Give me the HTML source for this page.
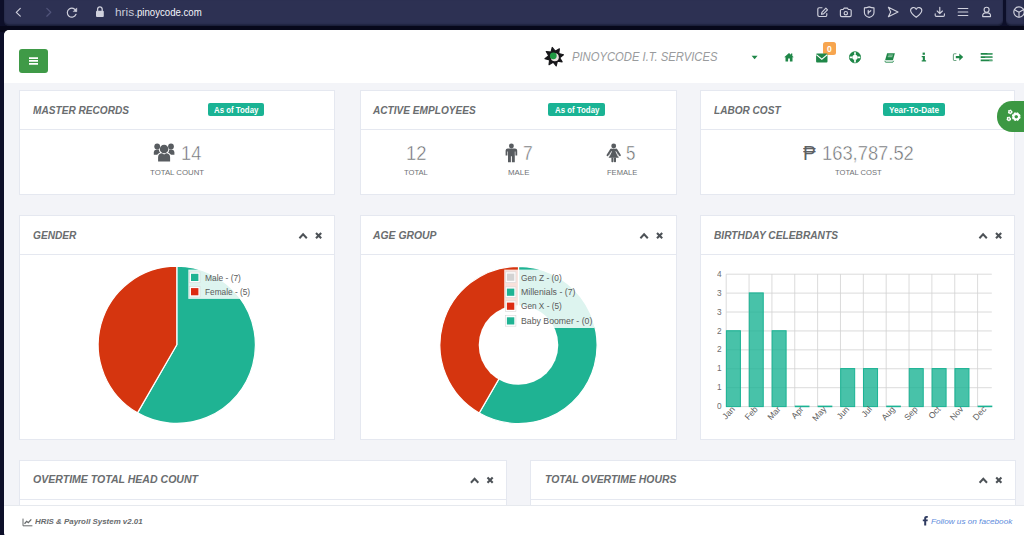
<!DOCTYPE html>
<html>
<head>
<meta charset="utf-8">
<title>HRIS &amp; Payroll System</title>
<style>
*{box-sizing:border-box;margin:0;padding:0}
html,body{width:1024px;height:535px;overflow:hidden}
body{background:#0d0f29;font-family:"Liberation Sans",sans-serif;position:relative;color:#676a6c}
.a{position:absolute}
.t{position:absolute;white-space:pre;transform-origin:0 0;display:block}
svg{position:absolute;overflow:visible}
#chrome{left:3.8px;top:0;width:999.6px;height:26.4px;background:#2d3153;border-radius:0 0 5px 5px;box-shadow:inset 0 -1.5px 1.5px rgba(10,12,30,.55)}
#gap{left:0;top:26.4px;width:1024px;height:6px;background:#07081a}
#chrome2{left:1006.3px;top:0;width:18px;height:26.4px;background:#2d3153;border-radius:0 0 0 5px;box-shadow:inset 0 -1.5px 1.5px rgba(10,12,30,.55)}
#page{left:4px;top:30.2px;width:1020px;height:508px;background:#f3f4f8;border-radius:6px 0 0 6px}
#hdr{left:4px;top:30.2px;width:1020px;height:52.6px;background:#fff;border-radius:5px 0 0 0}
#ftr{left:4px;top:505px;width:1020px;height:33px;background:#fff;border-radius:0 0 0 6px;border-top:1px solid #e6e9ee}
#menu{left:19px;top:49px;width:29px;height:23.5px;background:#3f9a47;border-radius:3px}
.card{position:absolute;background:#fff;border:1px solid #e5e8f0}
.hl{position:absolute;height:1px;background:#e5e8f0}
.badge{position:absolute;background:#1ab394;border-radius:2px}
#obadge{left:822.9px;top:42.3px;width:12.9px;height:12.5px;background:#f7a54f;border-radius:2.5px}
#gtab{left:996.8px;top:101.4px;width:40px;height:30.2px;background:#3c9843;border-radius:15.1px 0 0 15.1px}
</style>
</head>
<body>
<div id="gap" class="a"></div>
<div id="chrome" class="a"></div>
<div id="chrome2" class="a"></div>
<div id="page" class="a"></div>
<div id="hdr" class="a"></div>
<div id="menu" class="a"></div>
<svg style="left:29px;top:57px" width="9" height="8" viewBox="0 0 9 8"><path d="M0 0.2h9v1.7h-9zM0 3.1h9v1.7h-9zM0 6h9v1.7h-9z" fill="#fff"/></svg>

<!-- row 1 cards -->
<div class="card" style="left:18.7px;top:89.8px;width:316.5px;height:105.4px"></div>
<div class="card" style="left:360px;top:89.8px;width:316.8px;height:105.4px"></div>
<div class="card" style="left:700.2px;top:89.8px;width:315.3px;height:105.4px"></div>
<div class="hl" style="left:19.7px;top:128.6px;width:314.5px"></div>
<div class="hl" style="left:361px;top:128.6px;width:314.8px"></div>
<div class="hl" style="left:701.2px;top:128.6px;width:313.3px"></div>
<div class="badge" style="left:207.9px;top:103.1px;width:56.2px;height:12.8px"></div>
<div class="badge" style="left:548.3px;top:103.1px;width:57.2px;height:12.8px"></div>
<div class="badge" style="left:882.9px;top:103.1px;width:62.4px;height:12.8px"></div>

<!-- row 2 cards -->
<div class="card" style="left:18.7px;top:215.3px;width:316.5px;height:224.7px"></div>
<div class="card" style="left:360px;top:215.3px;width:316.8px;height:224.7px"></div>
<div class="card" style="left:700.2px;top:215.3px;width:315.3px;height:224.7px"></div>
<div class="hl" style="left:19.7px;top:253.8px;width:314.5px"></div>
<div class="hl" style="left:361px;top:253.8px;width:314.8px"></div>
<div class="hl" style="left:701.2px;top:253.8px;width:313.3px"></div>

<!-- row 3 cards -->
<div class="card" style="left:18.7px;top:459.9px;width:488.3px;height:90px"></div>
<div class="card" style="left:530px;top:459.9px;width:485.5px;height:90px"></div>
<div class="hl" style="left:19.7px;top:498.5px;width:486.3px"></div>
<div class="hl" style="left:531px;top:498.5px;width:483.5px"></div>

<div id="ftr" class="a"></div>
<div id="obadge" class="a"></div>
<div id="gtab" class="a"></div>

<svg class="a" style="left:0;top:0" width="1024" height="535" viewBox="0 0 1024 535">
<path d="M176.80 344.80L176.80 266.20A78.6 78.6 0 1 1 137.50 412.87Z" fill="#1fb393" stroke="#fff" stroke-width="1.2" stroke-linejoin="round"/>
<path d="M176.80 344.80L137.50 412.87A78.6 78.6 0 0 1 176.80 266.20Z" fill="#d5350f" stroke="#fff" stroke-width="1.2" stroke-linejoin="round"/>
<rect x="188.3" y="269.6" width="64.7" height="29.3" fill="#fff" fill-opacity="0.85"/><rect x="189.4" y="272.1" width="10.6" height="10.6" fill="#fff" fill-opacity="0.9" stroke="#d8d8d8" stroke-width="0.6"/><rect x="191.0" y="273.8" width="7.4" height="7.2" fill="#1fb393"/><rect x="189.4" y="286.4" width="10.6" height="10.6" fill="#fff" fill-opacity="0.9" stroke="#d8d8d8" stroke-width="0.6"/><rect x="191.0" y="288.1" width="7.4" height="7.2" fill="#dc2a12"/>
<path d="M518.50 345.00L518.50 266.40A78.6 78.6 0 1 1 479.20 413.07Z" fill="#1fb393" stroke="#fff" stroke-width="1.2"/>
<path d="M518.50 345.00L479.20 413.07A78.6 78.6 0 0 1 518.50 266.40Z" fill="#d5350f" stroke="#fff" stroke-width="1.2"/>
<circle cx="518.5" cy="345" r="39.8" fill="#fff"/>
<rect x="504.2" y="269.6" width="90.3" height="58.4" fill="#fff" fill-opacity="0.85"/><rect x="505.3" y="271.9" width="10.6" height="10.6" fill="#fff" fill-opacity="0.9" stroke="#d8d8d8" stroke-width="0.6"/><rect x="506.9" y="273.6" width="7.4" height="7.2" fill="#d3d3d3"/><rect x="505.3" y="286.9" width="10.6" height="10.6" fill="#fff" fill-opacity="0.9" stroke="#d8d8d8" stroke-width="0.6"/><rect x="506.9" y="288.6" width="7.4" height="7.2" fill="#1fb393"/><rect x="505.3" y="300.9" width="10.6" height="10.6" fill="#fff" fill-opacity="0.9" stroke="#d8d8d8" stroke-width="0.6"/><rect x="506.9" y="302.6" width="7.4" height="7.2" fill="#dc2a12"/><rect x="505.3" y="315.6" width="10.6" height="10.6" fill="#fff" fill-opacity="0.9" stroke="#d8d8d8" stroke-width="0.6"/><rect x="506.9" y="317.3" width="7.4" height="7.2" fill="#1fb393"/>
<path d="M726.2 274.20H991.8M726.2 293.11H991.8M726.2 312.03H991.8M726.2 330.94H991.8M726.2 349.86H991.8M726.2 368.77H991.8M726.2 387.69H991.8M726.2 406.60H991.8M726.20 274.2V406.6M749.05 274.2V406.6M771.91 274.2V406.6M794.76 274.2V406.6M817.62 274.2V406.6M840.47 274.2V406.6M863.33 274.2V406.6M886.18 274.2V406.6M909.04 274.2V406.6M931.89 274.2V406.6M954.75 274.2V406.6M977.60 274.2V406.6" stroke="#d2d2d2" stroke-width="0.8" fill="none"/>
<rect x="726.40" y="330.74" width="14.01" height="75.86" fill="#1ab394" fill-opacity="0.8" stroke="#1ab394" stroke-width="1"/>
<rect x="749.25" y="292.91" width="14.01" height="113.69" fill="#1ab394" fill-opacity="0.8" stroke="#1ab394" stroke-width="1"/>
<rect x="772.11" y="330.74" width="14.01" height="75.86" fill="#1ab394" fill-opacity="0.8" stroke="#1ab394" stroke-width="1"/>
<rect x="794.76" y="405.60" width="14.71" height="1.6" fill="#1ab394"/>
<rect x="817.62" y="405.60" width="14.71" height="1.6" fill="#1ab394"/>
<rect x="840.67" y="368.57" width="14.01" height="38.03" fill="#1ab394" fill-opacity="0.8" stroke="#1ab394" stroke-width="1"/>
<rect x="863.53" y="368.57" width="14.01" height="38.03" fill="#1ab394" fill-opacity="0.8" stroke="#1ab394" stroke-width="1"/>
<rect x="886.18" y="405.60" width="14.71" height="1.6" fill="#1ab394"/>
<rect x="909.24" y="368.57" width="14.01" height="38.03" fill="#1ab394" fill-opacity="0.8" stroke="#1ab394" stroke-width="1"/>
<rect x="932.09" y="368.57" width="14.01" height="38.03" fill="#1ab394" fill-opacity="0.8" stroke="#1ab394" stroke-width="1"/>
<rect x="954.95" y="368.57" width="14.01" height="38.03" fill="#1ab394" fill-opacity="0.8" stroke="#1ab394" stroke-width="1"/>
<rect x="977.60" y="405.60" width="14.71" height="1.6" fill="#1ab394"/>
<text x="735.4" y="409.6" text-anchor="end" transform="rotate(-48 735.4 409.6)" font-family="Liberation Sans, sans-serif" font-size="8.6" fill="#5f5f5f">Jan</text>
<text x="758.3" y="409.6" text-anchor="end" transform="rotate(-48 758.3 409.6)" font-family="Liberation Sans, sans-serif" font-size="8.6" fill="#5f5f5f">Feb</text>
<text x="781.1" y="409.6" text-anchor="end" transform="rotate(-48 781.1 409.6)" font-family="Liberation Sans, sans-serif" font-size="8.6" fill="#5f5f5f">Mar</text>
<text x="804.0" y="409.6" text-anchor="end" transform="rotate(-48 804.0 409.6)" font-family="Liberation Sans, sans-serif" font-size="8.6" fill="#5f5f5f">Apr</text>
<text x="826.8" y="409.6" text-anchor="end" transform="rotate(-48 826.8 409.6)" font-family="Liberation Sans, sans-serif" font-size="8.6" fill="#5f5f5f">May</text>
<text x="849.7" y="409.6" text-anchor="end" transform="rotate(-48 849.7 409.6)" font-family="Liberation Sans, sans-serif" font-size="8.6" fill="#5f5f5f">Jun</text>
<text x="872.5" y="409.6" text-anchor="end" transform="rotate(-48 872.5 409.6)" font-family="Liberation Sans, sans-serif" font-size="8.6" fill="#5f5f5f">Jul</text>
<text x="895.4" y="409.6" text-anchor="end" transform="rotate(-48 895.4 409.6)" font-family="Liberation Sans, sans-serif" font-size="8.6" fill="#5f5f5f">Aug</text>
<text x="918.2" y="409.6" text-anchor="end" transform="rotate(-48 918.2 409.6)" font-family="Liberation Sans, sans-serif" font-size="8.6" fill="#5f5f5f">Sep</text>
<text x="941.1" y="409.6" text-anchor="end" transform="rotate(-48 941.1 409.6)" font-family="Liberation Sans, sans-serif" font-size="8.6" fill="#5f5f5f">Oct</text>
<text x="963.9" y="409.6" text-anchor="end" transform="rotate(-48 963.9 409.6)" font-family="Liberation Sans, sans-serif" font-size="8.6" fill="#5f5f5f">Nov</text>
<text x="986.8" y="409.6" text-anchor="end" transform="rotate(-48 986.8 409.6)" font-family="Liberation Sans, sans-serif" font-size="8.6" fill="#5f5f5f">Dec</text>
<text x="829.3" y="51.9" text-anchor="middle" font-family="Liberation Sans, sans-serif" font-size="8.6" font-weight="bold" fill="#fff">0</text>
</svg>
<svg class="a" style="left:0;top:0" width="1024" height="535" viewBox="0 0 1024 535">
<g transform="translate(18.3 12.3)" ><path d="M2 -3.9L-2 0L2 3.9" fill="none" stroke="#d0d1dd" stroke-width="1.15" stroke-linecap="round" stroke-linejoin="round"/></g>
<g transform="translate(48.8 12.3)" ><path d="M-2 -3.9L2 0L-2 3.9" fill="none" stroke="#51547a" stroke-width="1.25" stroke-linecap="round" stroke-linejoin="round"/></g>
<g transform="translate(71.8 12.5)" ><path d="M4.3 -1.2A4.5 4.5 0 1 0 4.2 1.8" fill="none" stroke="#d0d1dd" stroke-width="1.15" stroke-linecap="round" stroke-linejoin="round"/><path d="M5 -4.6V-0.9H1.4Z" fill="#d0d1dd" stroke="#d0d1dd" stroke-width="0.5" stroke-linejoin="round"/></g>
<g transform="translate(99.9 11.8)" ><rect x="-3.9" y="-1" width="7.8" height="6.2" rx="1" fill="#d0d1dd"/><path d="M-2.3 -0.8V-2.6A2.3 2.3 0 0 1 2.3 -2.6V-0.8" fill="none" stroke="#d0d1dd" stroke-width="1.3"/></g>
<g transform="translate(822.5 12)" ><path d="M-0.5 -4.3H-3.3A1.4 1.4 0 0 0 -4.7 -2.9V3.1A1.4 1.4 0 0 0 -3.3 4.5H2.9A1.4 1.4 0 0 0 4.3 3.1V1.6" fill="none" stroke="#d0d1dd" stroke-width="1.15" stroke-linecap="round" stroke-linejoin="round"/><path d="M-0.6 0.4L3.4 -3.8L5 -2.2L1 1.9L-1 2.3Z" fill="none" stroke="#d0d1dd" stroke-width="1.15" stroke-linecap="round" stroke-linejoin="round"/></g>
<g transform="translate(845.8 12.4)" ><path d="M-5.4 -1.6A1.3 1.3 0 0 1 -4.1 -2.9H-2.6L-1.6 -4.3H1.6L2.6 -2.9H4.1A1.3 1.3 0 0 1 5.4 -1.6V2.9A1.3 1.3 0 0 1 4.1 4.2H-4.1A1.3 1.3 0 0 1 -5.4 2.9Z" fill="none" stroke="#d0d1dd" stroke-width="1.15" stroke-linecap="round" stroke-linejoin="round"/><circle cx="0" cy="0.8" r="1.7" fill="none" stroke="#d0d1dd" stroke-width="1.15" stroke-linecap="round" stroke-linejoin="round"/></g>
<g transform="translate(869.2 12)" ><path d="M0 -5.1C2 -4.3 3.4 -4.1 4.8 -4.1V0.4C4.8 3 2.6 4.6 0 5.4C-2.6 4.6 -4.8 3 -4.8 0.4V-4.1C-3.4 -4.1 -2 -4.3 0 -5.1Z" fill="none" stroke="#d0d1dd" stroke-width="1.15" stroke-linecap="round" stroke-linejoin="round"/><path d="M-1 -1.6V2M-1 0.9L1.6 -1.3" fill="none" stroke="#d0d1dd" stroke-width="1.15" stroke-linecap="round" stroke-linejoin="round" stroke-width="1.1"/></g>
<g transform="translate(893 12)" ><path d="M-4.6 -4.7L5 0L-4.6 4.7L-2.3 0Z" fill="none" stroke="#d0d1dd" stroke-width="1.15" stroke-linecap="round" stroke-linejoin="round"/></g>
<g transform="translate(916.2 12.4)" ><path d="M0 4.9C-2.6 3 -5.6 0.8 -5.6 -1.9A2.9 2.9 0 0 1 0 -3A2.9 2.9 0 0 1 5.6 -1.9C5.6 0.8 2.6 3 0 4.9Z" fill="none" stroke="#d0d1dd" stroke-width="1.15" stroke-linecap="round" stroke-linejoin="round"/></g>
<g transform="translate(939.8 12)" ><path d="M0 -4.8V1.4M-2.6 -1L0 1.6L2.6 -1M-4.6 1.8V3.2A1.2 1.2 0 0 0 -3.4 4.4H3.4A1.2 1.2 0 0 0 4.6 3.2V1.8" fill="none" stroke="#d0d1dd" stroke-width="1.15" stroke-linecap="round" stroke-linejoin="round"/></g>
<g transform="translate(963 12)" ><path d="M-4.8 -3.5H4.8M-4.8 0H4.8M-4.8 3.5H4.8" fill="none" stroke="#d0d1dd" stroke-width="1.15" stroke-linecap="round" stroke-linejoin="round" stroke-width="1.4"/></g>
<g transform="translate(986.6 12)" ><circle cx="0" cy="-2.3" r="2.5" fill="none" stroke="#d0d1dd" stroke-width="1.15" stroke-linecap="round" stroke-linejoin="round"/><path d="M-3.9 4.6V3.4A2.6 2.6 0 0 1 -1.3 0.8H1.3A2.6 2.6 0 0 1 3.9 3.4V4.6Z" fill="none" stroke="#d0d1dd" stroke-width="1.15" stroke-linecap="round" stroke-linejoin="round"/></g>
<g transform="translate(1019 12)" ><circle cx="0" cy="0" r="5.2" fill="none" stroke="#d0d1dd" stroke-width="1.15" stroke-linecap="round" stroke-linejoin="round"/><path d="M0 0.3V5M0 0.3L-4.4 -2.2M0 0.3L4.4 -2.2" fill="none" stroke="#d0d1dd" stroke-width="1.15" stroke-linecap="round" stroke-linejoin="round" stroke-width="1.1"/></g>
<g transform="translate(554.2 56.7)" ><polygon points="-1.98,-9.29 1.02,-5.51 5.17,-7.97 4.62,-3.17 9.29,-1.98 5.51,1.02 7.97,5.17 3.17,4.62 1.98,9.29 -1.02,5.51 -5.17,7.97 -4.62,3.17 -9.29,1.98 -5.51,-1.02 -7.97,-5.17 -3.17,-4.62" fill="#17171a" stroke="#17171a" stroke-width="1.1" stroke-linejoin="round"/><circle cx="0.6" cy="0.6" r="4" fill="#e9e4e0"/><circle cx="-0.9" cy="-0.9" r="3.4" fill="#1f9a43"/></g>
<g transform="translate(754.6 57.4)" ><path d="M-3 -1.6H3L0 1.8Z" fill="#1f8748"/></g>
<g transform="translate(789 57.4)" ><path d="M0 -4.4L4.8 -0.2H3.5V4.1H0.9V1.1H-0.9V4.1H-3.5V-0.2H-4.8Z" fill="#1f8748"/><rect x="2" y="-3.9" width="1.3" height="2.4" fill="#1f8748"/></g>
<g transform="translate(821.8 58)" ><rect x="-5.7" y="-4.4" width="11.4" height="8.8" rx="0.9" fill="#1f8748"/><path d="M-5.5 -3.4L0 1.2L5.5 -3.4" fill="none" stroke="#fff" stroke-width="1.1"/></g>
<g transform="translate(855 57.3)" ><circle r="4.2" fill="none" stroke="#1f8748" stroke-width="3.1"/><path d="M-5.6 0H-2.6M2.6 0H5.6M0 -5.6V-2.6M0 2.6V5.6" stroke="#fff" stroke-width="1.7" transform="rotate(0)"/><circle r="5.6" fill="none" stroke="#1f8748" stroke-width="0.7"/></g>
<g transform="translate(889.7 57.7)" ><path d="M-2.6 -4.4H5.2L3.2 2.6H-4.6Z" fill="#1f8748"/><path d="M-4.9 3.1L-4.2 4.5H3.2L3.9 3.1" fill="none" stroke="#1f8748" stroke-width="0.9"/><path d="M-1.4 -2.6H3.2M-1.9 -1H2.7" stroke="#cfe8d8" stroke-width="0.7"/></g>
<g transform="translate(923.9 57.1)" ><rect x="-1.3" y="-4.5" width="2.3" height="2.2" fill="#1f8748"/><path d="M-2.2 -1.2H1V3.2H2.2V4.5H-2.2V3.2H-1.1V0.1H-2.2Z" fill="#1f8748"/></g>
<g transform="translate(958 57.1)" ><path d="M-1.6 -3.4H-3.5A1.1 1.1 0 0 0 -4.6 -2.3V2.3A1.1 1.1 0 0 0 -3.5 3.4H-1.6" fill="none" stroke="#6fa685" stroke-width="1.1"/><path d="M-2.2 -1.2H1.3V-3.6L5.2 0L1.3 3.6V1.2H-2.2Z" fill="#1f8748"/></g>
<g transform="translate(986.6 57.15)" ><path d="M-5.9 -3.25H5.9M-5.9 0H5.9M-5.9 3.25H5.9" stroke="#1f8748" stroke-width="1.9"/><path d="M0.8 -3.25H5.6M-1.5 0H5.6M2.6 3.25H5.6" stroke="#9bcfae" stroke-width="0.6"/></g>
<g transform="translate(1016.2 116.7)" ><circle r="3.1" fill="none" stroke="#fff" stroke-width="2.6" stroke-dasharray="1.7 0.73"/><circle r="2.7" fill="none" stroke="#fff" stroke-width="1.8"/></g>
<g transform="translate(1010.2 111.9)" ><circle r="1.5" fill="none" stroke="#fff" stroke-width="1.6" stroke-dasharray="1 0.57"/><circle r="1.4" fill="none" stroke="#fff" stroke-width="1.1"/></g>
<g transform="translate(1008.8 118.9)" ><circle r="1.5" fill="none" stroke="#fff" stroke-width="1.6" stroke-dasharray="1 0.57"/><circle r="1.4" fill="none" stroke="#fff" stroke-width="1.1"/></g>
<g transform="translate(164.1 152.4)" ><circle cx="0" cy="-3.4" r="4.3" fill="#585c60"/>
<path d="M-6 9.2V4.6A4 4 0 0 1 -2 0.9L0 2.2L2 0.9A4 4 0 0 1 6 4.6V9.2A0 0 0 0 1 6 9.2Z" fill="#585c60"/>
<circle cx="-6.9" cy="-5.9" r="2.9" fill="#585c60"/><circle cx="6.9" cy="-5.9" r="2.9" fill="#585c60"/>
<path d="M-10.3 2.4V-0.3A2.8 2.8 0 0 1 -7.5 -2.8H-5.2A5.6 5.6 0 0 0 -4 0.3A5 5 0 0 0 -6.9 2.4Z" fill="#585c60"/>
<path d="M10.3 2.4V-0.3A2.8 2.8 0 0 0 7.5 -2.8H5.2A5.6 5.6 0 0 1 4 0.3A5 5 0 0 1 6.9 2.4Z" fill="#585c60"/></g>
<g transform="translate(511.4 153)" ><circle cx="0" cy="-7" r="2.45" fill="#585c60"/>
<path d="M-3.6 -4.6H3.6A2.2 2.2 0 0 1 5.8 -2.4V2.6H4V-1.6H3.4V9.2H0.5V3.2H-0.5V9.2H-3.4V-1.6H-4V2.6H-5.8V-2.4A2.2 2.2 0 0 1 -3.6 -4.6Z" fill="#585c60"/></g>
<g transform="translate(613.7 153)" ><circle cx="0" cy="-7" r="2.45" fill="#585c60"/>
<path d="M-2.1 -4.3H2.1L3.2 -3.4L5 4.8H-5L-3.2 -3.4Z" fill="#585c60"/>
<path d="M-2.6 -3.5L-6.2 2.2M2.6 -3.5L6.2 2.2" stroke="#585c60" stroke-width="1.9" stroke-linecap="round" fill="none"/>
<path d="M-2.15 -1.6L-4.6 3.6M2.15 -1.6L4.6 3.6" stroke="#fff" stroke-width="0.9" fill="none"/>
<path d="M-2.3 4.6H-0.25V8.4A0.8 0.8 0 0 1 -1 9.2H-1.5A0.8 0.8 0 0 1 -2.3 8.4ZM2.3 4.6H0.25V8.4A0.8 0.8 0 0 0 1 9.2H1.5A0.8 0.8 0 0 0 2.3 8.4Z" fill="#585c60"/></g>
<g transform="translate(303.1 236)" ><path d="M-3.7 2.2L0 -1.7L3.7 2.2" fill="none" stroke="#4d5257" stroke-width="2"/></g><g transform="translate(318.6 235.7)" ><path d="M-2.6 -2.6L2.6 2.6M2.6 -2.6L-2.6 2.6" fill="none" stroke="#4d5257" stroke-width="2.1"/></g>
<g transform="translate(644.1 236)" ><path d="M-3.7 2.2L0 -1.7L3.7 2.2" fill="none" stroke="#4d5257" stroke-width="2"/></g><g transform="translate(659.6 235.7)" ><path d="M-2.6 -2.6L2.6 2.6M2.6 -2.6L-2.6 2.6" fill="none" stroke="#4d5257" stroke-width="2.1"/></g>
<g transform="translate(983.1 236)" ><path d="M-3.7 2.2L0 -1.7L3.7 2.2" fill="none" stroke="#4d5257" stroke-width="2"/></g><g transform="translate(998.6 235.7)" ><path d="M-2.6 -2.6L2.6 2.6M2.6 -2.6L-2.6 2.6" fill="none" stroke="#4d5257" stroke-width="2.1"/></g>
<g transform="translate(474.6 480.5)" ><path d="M-3.7 2.2L0 -1.7L3.7 2.2" fill="none" stroke="#4d5257" stroke-width="2"/></g><g transform="translate(490.1 480.2)" ><path d="M-2.6 -2.6L2.6 2.6M2.6 -2.6L-2.6 2.6" fill="none" stroke="#4d5257" stroke-width="2.1"/></g>
<g transform="translate(983.3000000000001 480.5)" ><path d="M-3.7 2.2L0 -1.7L3.7 2.2" fill="none" stroke="#4d5257" stroke-width="2"/></g><g transform="translate(998.8000000000001 480.2)" ><path d="M-2.6 -2.6L2.6 2.6M2.6 -2.6L-2.6 2.6" fill="none" stroke="#4d5257" stroke-width="2.1"/></g>
<g transform="translate(27.5 522.2)" ><path d="M-4.5 -3.6V3.6H4.9" fill="none" stroke="#676a6c" stroke-width="1"/><path d="M-3 1.6L-0.8 -0.9L0.8 0.5L3.8 -2.8" fill="none" stroke="#676a6c" stroke-width="1.3"/></g>
<g transform="translate(925.2 520.9)" ><path d="M1 4.7H-1V0.3H-2.4V-1.4H-1V-2.6C-1 -4 0 -4.8 1.3 -4.8H2.6V-3.2H1.7C1.2 -3.2 1 -2.9 1 -2.5V-1.4H2.6L2.4 0.3H1Z" fill="#2f3b60"/></g>
</svg>
<!-- text -->
<span class="t" style="left:114.8px;top:6.7px;font-size:11.5px;line-height:11.5px;color:#c9cbd8;transform:scaleX(1.035);">hris.</span>
<span class="t" style="left:137.3px;top:6.7px;font-size:11.5px;line-height:11.5px;color:#f6f6fa;transform:scaleX(0.836);">pinoycode.com</span>
<span class="t" style="left:572.0px;top:49.9px;font-size:13px;line-height:13px;color:#999b9d;transform:scaleX(0.864);font-style:italic;">PINOYCODE I.T. SERVICES</span>
<span class="t" style="left:32.7px;top:105.1px;font-size:11.5px;line-height:11.5px;color:#6a6d6f;transform:scaleX(0.879);font-weight:bold;font-style:italic;">MASTER RECORDS</span>
<span class="t" style="left:373.0px;top:105.1px;font-size:11.5px;line-height:11.5px;color:#6a6d6f;transform:scaleX(0.878);font-weight:bold;font-style:italic;">ACTIVE EMPLOYEES</span>
<span class="t" style="left:714.2px;top:105.1px;font-size:11.5px;line-height:11.5px;color:#6a6d6f;transform:scaleX(0.875);font-weight:bold;font-style:italic;">LABOR COST</span>
<span class="t" style="left:32.6px;top:229.6px;font-size:11.5px;line-height:11.5px;color:#6a6d6f;transform:scaleX(0.882);font-weight:bold;font-style:italic;">GENDER</span>
<span class="t" style="left:373.0px;top:229.6px;font-size:11.5px;line-height:11.5px;color:#6a6d6f;transform:scaleX(0.903);font-weight:bold;font-style:italic;">AGE GROUP</span>
<span class="t" style="left:714.0px;top:229.6px;font-size:11.5px;line-height:11.5px;color:#6a6d6f;transform:scaleX(0.886);font-weight:bold;font-style:italic;">BIRTHDAY CELEBRANTS</span>
<span class="t" style="left:32.7px;top:474.3px;font-size:11.5px;line-height:11.5px;color:#6a6d6f;transform:scaleX(0.917);font-weight:bold;font-style:italic;">OVERTIME TOTAL HEAD COUNT</span>
<span class="t" style="left:544.5px;top:474.3px;font-size:11.5px;line-height:11.5px;color:#6a6d6f;transform:scaleX(0.908);font-weight:bold;font-style:italic;">TOTAL OVERTIME HOURS</span>
<span class="t" style="left:214.3px;top:105.7px;font-size:8.6px;line-height:8.6px;color:#fff;transform:scaleX(0.915);font-weight:bold;">As of Today</span>
<span class="t" style="left:555.0px;top:105.7px;font-size:8.6px;line-height:8.6px;color:#fff;transform:scaleX(0.915);font-weight:bold;">As of Today</span>
<span class="t" style="left:888.9px;top:105.7px;font-size:8.6px;line-height:8.6px;color:#fff;transform:scaleX(0.955);font-weight:bold;">Year-To-Date</span>
<span class="t" style="left:180.5px;top:142.8px;font-size:20.5px;line-height:20.5px;color:#686b6e;transform:scaleX(0.890);-webkit-text-stroke:0.5px #fff;">14</span>
<span class="t" style="left:406.4px;top:142.8px;font-size:20.5px;line-height:20.5px;color:#686b6e;transform:scaleX(0.899);-webkit-text-stroke:0.5px #fff;">12</span>
<span class="t" style="left:522.7px;top:142.8px;font-size:20.5px;line-height:20.5px;color:#686b6e;transform:scaleX(0.850);-webkit-text-stroke:0.5px #fff;">7</span>
<span class="t" style="left:625.5px;top:142.8px;font-size:20.5px;line-height:20.5px;color:#686b6e;transform:scaleX(0.824);-webkit-text-stroke:0.5px #fff;">5</span>
<span class="t" style="left:802.8px;top:142.8px;font-size:20.5px;line-height:20.5px;color:#5e6164;transform:scaleX(0.928);">₱</span>
<span class="t" style="left:821.8px;top:142.8px;font-size:20.5px;line-height:20.5px;color:#686b6e;transform:scaleX(0.895);-webkit-text-stroke:0.5px #fff;">163,787.52</span>
<span class="t" style="left:150.0px;top:168.9px;font-size:8px;line-height:8px;color:#6f7275;transform:scaleX(0.976);">TOTAL COUNT</span>
<span class="t" style="left:404.0px;top:168.9px;font-size:8px;line-height:8px;color:#6f7275;transform:scaleX(0.950);">TOTAL</span>
<span class="t" style="left:508.0px;top:168.9px;font-size:8px;line-height:8px;color:#6f7275;transform:scaleX(0.982);">MALE</span>
<span class="t" style="left:606.5px;top:168.9px;font-size:8px;line-height:8px;color:#6f7275;transform:scaleX(0.943);">FEMALE</span>
<span class="t" style="left:835.4px;top:168.9px;font-size:8px;line-height:8px;color:#6f7275;transform:scaleX(0.947);">TOTAL COST</span>
<span class="t" style="left:205.1px;top:273.8px;font-size:8.4px;line-height:8.4px;color:#5a5a5a;transform:scaleX(1.002);">Male - (7)</span>
<span class="t" style="left:205.1px;top:288.0px;font-size:8.4px;line-height:8.4px;color:#5a5a5a;transform:scaleX(0.989);">Female - (5)</span>
<span class="t" style="left:521.3px;top:273.9px;font-size:8.4px;line-height:8.4px;color:#5a5a5a;transform:scaleX(0.994);">Gen Z - (0)</span>
<span class="t" style="left:521.3px;top:288.0px;font-size:8.4px;line-height:8.4px;color:#5a5a5a;transform:scaleX(1.044);">Millenials - (7)</span>
<span class="t" style="left:521.3px;top:302.1px;font-size:8.4px;line-height:8.4px;color:#5a5a5a;transform:scaleX(0.983);">Gen X - (5)</span>
<span class="t" style="left:521.3px;top:316.6px;font-size:8.4px;line-height:8.4px;color:#5a5a5a;transform:scaleX(1.042);">Baby Boomer - (0)</span>
<span class="t" style="left:34.9px;top:518.4px;font-size:8px;line-height:8px;color:#676a6c;transform:scaleX(0.988);font-weight:bold;font-style:italic;">HRIS &amp; Payroll System v2.01</span>
<span class="t" style="left:931.1px;top:518.0px;font-size:8px;line-height:8px;color:#5b8bdc;transform:scaleX(1.021);font-style:italic;">Follow us on facebook</span>
<span class="t" style="left:717.0px;top:269.8px;font-size:8.8px;line-height:8.8px;color:#6e6e6e;transform:scaleX(0.938);">4</span>
<span class="t" style="left:717.0px;top:288.7px;font-size:8.8px;line-height:8.8px;color:#6e6e6e;transform:scaleX(0.938);">3</span>
<span class="t" style="left:717.0px;top:307.6px;font-size:8.8px;line-height:8.8px;color:#6e6e6e;transform:scaleX(0.938);">3</span>
<span class="t" style="left:717.0px;top:326.5px;font-size:8.8px;line-height:8.8px;color:#6e6e6e;transform:scaleX(0.938);">2</span>
<span class="t" style="left:717.0px;top:345.4px;font-size:8.8px;line-height:8.8px;color:#6e6e6e;transform:scaleX(0.938);">2</span>
<span class="t" style="left:717.0px;top:364.3px;font-size:8.8px;line-height:8.8px;color:#6e6e6e;transform:scaleX(0.938);">1</span>
<span class="t" style="left:717.0px;top:383.2px;font-size:8.8px;line-height:8.8px;color:#6e6e6e;transform:scaleX(0.938);">1</span>
<span class="t" style="left:717.0px;top:402.2px;font-size:8.8px;line-height:8.8px;color:#6e6e6e;transform:scaleX(0.938);">0</span>
</body>
</html>
